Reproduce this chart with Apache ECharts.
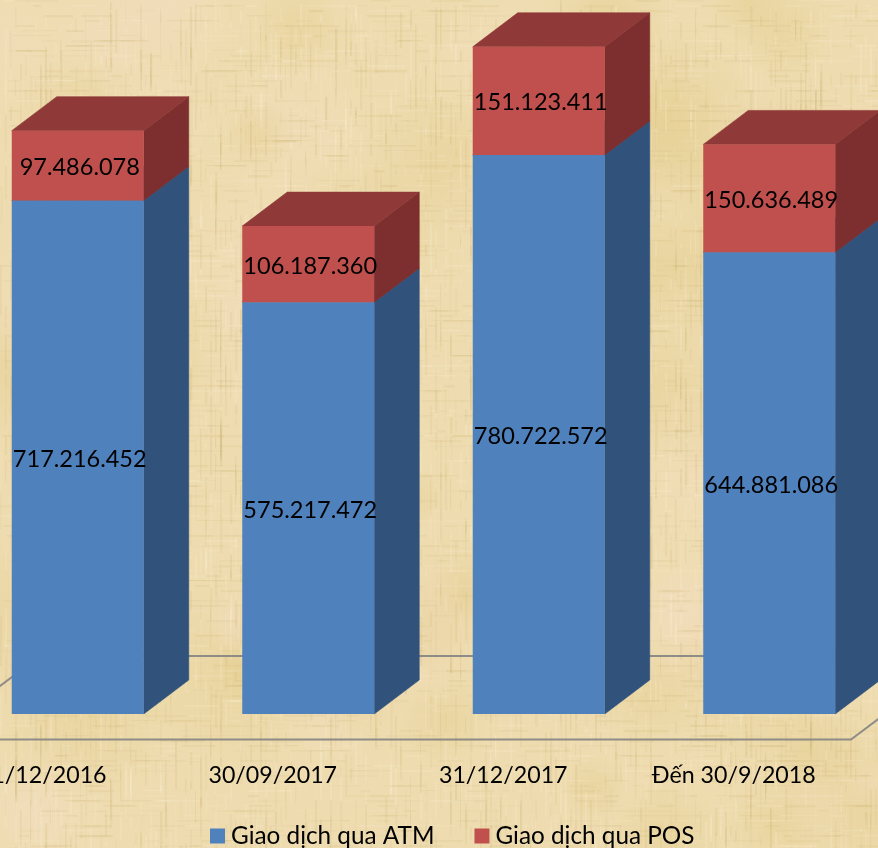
<!DOCTYPE html>
<html><head><meta charset="utf-8">
<style>html,body{margin:0;padding:0;background:#eedcb0}#c{width:878px;height:848px}</style>
<script src="https://cdn.jsdelivr.net/npm/echarts@6/dist/echarts.min.js"></script>
</head><body><div id="c"></div>
<script>
const categories = ['31/12/2016', '30/09/2017', '31/12/2017', 'Đến 30/9/2018'];
const atmValues = [717216452, 575217472, 780722572, 644881086];
const posValues = [97486078, 106187360, 151123411, 150636489];
const atmName = 'Giao dịch qua ATM';
const posName = 'Giao dịch qua POS';
const FONT = 'Lato, "Noto Sans", sans-serif';

function fmt(v){ return String(v).replace(/\B(?=(\d{3})+(?!\d))/g, '.'); }

// parchment paper texture (decorative background only, deterministic)
function parchment(w, h){
  const c = document.createElement('canvas'); c.width = w; c.height = h;
  const g = c.getContext('2d');
  g.fillStyle = '#eedcb0'; g.fillRect(0,0,w,h);
  let s = 12345; const r = () => (s = (s * 16807) % 2147483647) / 2147483647;
  for (let i = 0; i < 90; i++) {
    const x = r()*w, y = r()*h, rad = 30 + r()*70;
    const col = r() < 0.5 ? '225,200,130' : '243,222,195';
    const gr = g.createRadialGradient(x,y,0,x,y,rad);
    gr.addColorStop(0,'rgba('+col+',0.35)'); gr.addColorStop(1,'rgba('+col+',0)');
    g.fillStyle = gr; g.fillRect(x-rad,y-rad,rad*2,rad*2);
  }
  for (let i = 0; i < 4200; i++) {
    const x = Math.round(r()*w/5)*5, y = r()*h, len = 8 + r()*44, wd = 1 + r()*1.5;
    const col = r() < 0.55 ? '205,180,115' : '252,240,215';
    g.fillStyle = 'rgba('+col+','+(0.07 + r()*0.14)+')';
    g.fillRect(x, y, wd, len);
  }
  for (let i = 0; i < 3400; i++) {
    const x = r()*w, y = Math.round(r()*h/5)*5, len = 8 + r()*36, wd = 1 + r()*1.5;
    const col = r() < 0.55 ? '205,180,115' : '252,240,215';
    g.fillStyle = 'rgba('+col+','+(0.06 + r()*0.12)+')';
    g.fillRect(x, y, len, wd);
  }
  return c;
}

const DX = 45, DY = -34, BAR_RATIO = 0.5727;

function boxRenderer(front, side, top){
  return function(params, api){
    const i = api.value(0), start = api.value(1), end = api.value(2);
    const c0 = api.coord([i, start]), c1 = api.coord([i, end]);
    const w = api.size([1,0])[0] * BAR_RATIO;
    const l = c0[0] - w/2, r = c0[0] + w/2, b = c0[1], t = c1[1];
    return { type:'group', children:[
      { type:'polygon', shape:{points:[[r,b],[r+DX,b+DY],[r+DX,t+DY],[r,t]]}, style:{fill:side, stroke:side, lineWidth:0.6} },
      { type:'polygon', shape:{points:[[l,t],[r,t],[r+DX,t+DY],[l+DX,t+DY]]}, style:{fill:top, stroke:top, lineWidth:0.6} },
      { type:'rect', shape:{x:l,y:t,width:w,height:b-t}, style:{fill:front} },
      { type:'text', z2:10, style:{ x:c0[0]+2, y:(b+t)/2+2, text:fmt(end-start), fill:'#000',
        font:'23.5px '+FONT, align:'center', verticalAlign:'middle' } }
    ]};
  };
}

function floorRenderer(params, api){
  const cs = params.coordSys, base = api.coord([0,0])[1];
  const fl = cs.x - 33.5, fr = fl + cs.width, fy = base + 25.5, bx = 111, by = -83.5;
  return { type:'polyline', shape:{points:[[fl+bx,fy+by],[fl,fy],[fr,fy],[fr+bx,fy+by],[fl+bx,fy+by]]},
    style:{stroke:'#8d8c86', lineWidth:2, fill:null} };
}

const atmData = atmValues.map((v,i)=>[i,0,v]);
const posData = posValues.map((v,i)=>[i,atmValues[i],atmValues[i]+v]);

const chart = echarts.init(document.getElementById('c'), null, {renderer:'canvas'});
chart.setOption({
  animation:false,
  backgroundColor:{ image:parchment(878,848), repeat:'no-repeat' },
  grid:{ left:-37.5, width:922, top:-2, height:716, outerBoundsMode:'none' },
  xAxis:{ type:'category', data:categories, axisLine:{show:false}, axisTick:{show:false},
    axisLabel:{ color:'#000', fontSize:23.2, fontFamily:FONT, margin:50, interval:0, padding:[0,71,0,0], hideOverlap:false } },
  yAxis:{ type:'value', min:0, max:1000000000, show:false, splitLine:{show:false} },
  legend:{ data:[atmName,posName], left:210, top:824, itemWidth:15, itemHeight:15, itemGap:40, icon:'rect',
    textStyle:{color:'#000', fontSize:24.3, fontFamily:FONT, padding:[0,0,0,1]}, padding:0 },
  series:[
    { type:'custom', name:'floor', renderItem:floorRenderer, data:[[0]], silent:true, z:1 },
    { type:'custom', name:atmName, renderItem:boxRenderer('#4f81bd','#31527b','#3b6191'), data:atmData, z:2,
      encode:{x:0,y:[1,2]}, itemStyle:{color:'#4f81bd'} },
    { type:'custom', name:posName, renderItem:boxRenderer('#c0504d','#7c2f2e','#8f3938'), data:posData, z:3,
      encode:{x:0,y:[1,2]}, itemStyle:{color:'#c0504d'} }
  ]
});
</script></body></html>
